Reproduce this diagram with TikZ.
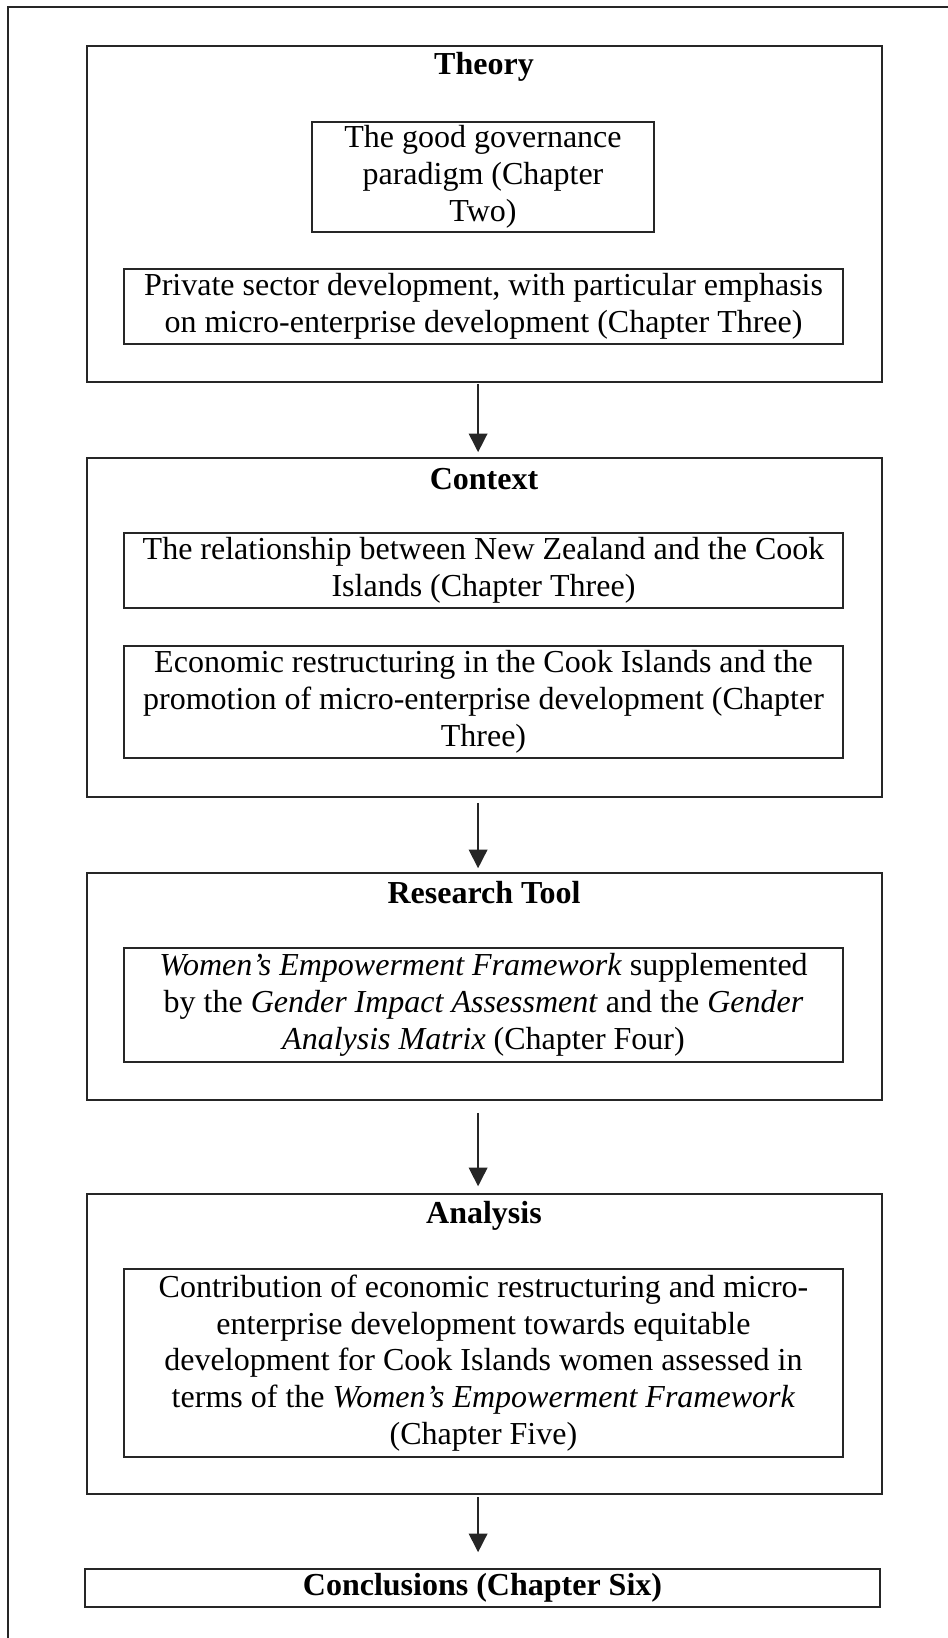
\documentclass[tikz,border=0pt]{standalone}
\usepackage{fontspec}
\setmainfont{Liberation Serif}
\usetikzlibrary{arrows.meta}

\begin{document}
\begin{tikzpicture}[
    x=0.375pt, y=-0.375pt,
    font=\fontsize{12}{13.8}\selectfont,
    stage/.style={draw=black!85, line width=0.6pt, minimum width=298.1pt, inner sep=0pt},
    head/.style={font=\fontsize{12}{13.8}\selectfont\bfseries, inner sep=0pt},
    item/.style={draw=black!85, line width=0.6pt, align=center, inner sep=0pt,
                 minimum width=269.6pt},
    link/.style={-{Triangle[length=7pt, width=7pt]}, black!85, line width=0.6pt},
  ]
  \useasboundingbox (0,0) rectangle (948,1638);
  \draw[black!85, line width=0.6pt] (8,7) rectangle (980,1680);

  % stages
  \node[stage, minimum height=126pt]   (theory)   at (484.5,214)  {};
  \node[stage, minimum height=127.1pt] (context)  at (484.5,627.5) {};
  \node[stage, minimum height=85.1pt]  (research) at (484.5,986.5) {};
  \node[stage, minimum height=112.5pt] (analysis) at (484.5,1344) {};
  \node[stage, minimum height=14.25pt, font=\fontsize{12}{13.8}\selectfont\bfseries]
        (concl) at (482.5,1588) {Conclusions (Chapter Six)};

  \node[head] (theoryT)   at (484,67)   {Theory};
  \node[head] (contextT)  at (484,479)  {Context};
  \node[head] (researchT) at (484,893)  {Research Tool};
  \node[head] (analysisT) at (484,1216) {Analysis};

  % contents
  \node[item, minimum width=128.25pt, minimum height=41.25pt] (gov) at (483,177)
        {The good governance\\paradigm (Chapter\\Two)};
  \node[item, minimum height=28.1pt] (priv) at (483.5,306.5)
        {Private sector development, with particular emphasis\\on micro-enterprise development (Chapter Three)};
  \node[item, minimum height=28.1pt] (nz) at (483.5,570.5)
        {The relationship between New Zealand and the Cook\\Islands (Chapter Three)};
  \node[item, minimum height=42pt] (econ) at (483.5,702)
        {Economic restructuring in the Cook Islands and the\\promotion of micro-enterprise development (Chapter\\Three)};
  \node[item, minimum height=42.75pt] (wef) at (483.5,1005)
        {\textit{Women's Empowerment Framework} supplemented\\by the \textit{Gender Impact Assessment} and the \textit{Gender}\\\textit{Analysis Matrix} (Chapter Four)};
  \node[item, minimum height=70.5pt] (contrib) at (483.5,1363)
        {Contribution of economic restructuring and micro-\\enterprise development towards equitable\\development for Cook Islands women assessed in\\terms of the \textit{Women's Empowerment Framework}\\(Chapter Five)};

  \draw[link, shorten <=0.4pt, shorten >=1.9pt] ([xshift=-2.4pt]theory.south) -- ([xshift=-2.4pt]context.north);
  \draw[link, shorten <=1.9pt, shorten >=1.5pt] ([xshift=-2.4pt]context.south) -- ([xshift=-2.4pt]research.north);
  \draw[link, shorten <=4.5pt, shorten >=2.6pt] ([xshift=-2.4pt]research.south) -- ([xshift=-2.4pt]analysis.north);
  \draw[link, shorten <=1pt, shorten >=6pt] ([xshift=-2.4pt]analysis.south) -- ([xshift=-1.65pt]concl.north);
\end{tikzpicture}
\end{document}
